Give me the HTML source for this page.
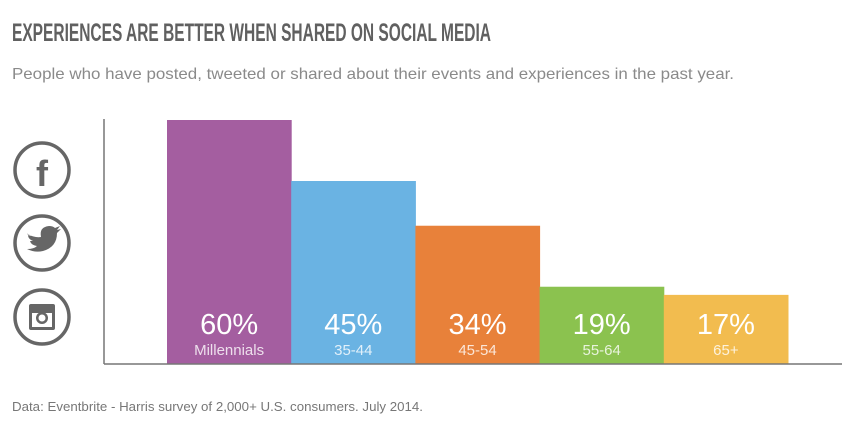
<!DOCTYPE html>
<html><head><meta charset="utf-8"><style>
body{margin:0;background:#fff;width:864px;height:424px;overflow:hidden}
svg{display:block;font-family:"Liberation Sans",sans-serif}
</style></head><body>
<svg width="864" height="424">
<text x="12" y="41" font-size="25" font-weight="bold" fill="#606060" textLength="479" lengthAdjust="spacingAndGlyphs">EXPERIENCES ARE BETTER WHEN SHARED ON SOCIAL MEDIA</text>
<text x="12" y="79" font-size="16" fill="#8a8a8a" textLength="722" lengthAdjust="spacingAndGlyphs">People who have posted, tweeted or shared about their events and experiences in the past year.</text>
<g><circle cx="42" cy="170" r="27" fill="none" stroke="#666" stroke-width="3.5"/><text x="42" y="186" text-anchor="middle" font-size="36" font-weight="bold" fill="#666">f</text></g>
<g><circle cx="42" cy="243" r="27" fill="none" stroke="#666" stroke-width="3.5"/><path d="M27 234 q8 4 14 3 q-2 -10 8 -11 q4 0 6 2 l5 -2 l-3 4 l4 -1 l-4 4 q0 14 -14 18 q-8 2 -16 -2 q7 0 10 -3 q-6 -1 -7 -5 l3 0 q-5 -2 -5 -6 l3 1 q-4 -3 -4 -2z" fill="#666"/></g>
<g><circle cx="42" cy="317" r="27" fill="none" stroke="#666" stroke-width="3.5"/><rect x="29" y="304" width="26" height="26" rx="2" fill="#666"/><rect x="32" y="313" width="20" height="14" fill="#fff"/><circle cx="42" cy="318" r="6" fill="#666"/><circle cx="42" cy="318" r="3.5" fill="#fff"/></g>
<g id="bars"></g>
<line x1="104" y1="119" x2="104" y2="364" stroke="#777" stroke-width="1.5"/>
<line x1="104" y1="364" x2="842" y2="364" stroke="#777" stroke-width="1.5"/>
<text x="12" y="411" font-size="13" fill="#777" textLength="411" lengthAdjust="spacingAndGlyphs">Data: Eventbrite - Harris survey of 2,000+ U.S. consumers. July 2014.</text>
</svg>
<script>
const categories=["Millennials","35-44","45-54","55-64","65+"];
const values=[60,45,34,19,17];
const colors=["#a45ea0","#6ab3e3","#e8813a","#8bc24f","#f2bc4f"];
const x0=167,bw=124.2,base=364,scale=244/60;
const g=document.getElementById('bars');
const ns="http://www.w3.org/2000/svg";
values.forEach((v,i)=>{
 const x=x0+i*bw,h=v*scale;
 const r=document.createElementNS(ns,'rect');
 
 
 r.setAttribute('x',x);r.setAttribute('y',base-h);r.setAttribute('width',bw+0.5);r.setAttribute('height',h);r.setAttribute('fill',colors[i]);
 g.appendChild(r);
 const t=document.createElementNS(ns,'text');
 
 
 t.setAttribute('x',x+bw/2);t.setAttribute('y',334);t.setAttribute('text-anchor','middle');t.setAttribute('font-size','29');t.setAttribute('fill','#fff');
 t.textContent=v+'%';g.appendChild(t);
 const c=document.createElementNS(ns,'text');
 
 
 c.setAttribute('x',x+bw/2);c.setAttribute('y',355);c.setAttribute('text-anchor','middle');c.setAttribute('font-size','15');c.setAttribute('fill','rgba(255,255,255,0.8)');
 c.textContent=categories[i];g.appendChild(c);
});
</script>
</body></html>
